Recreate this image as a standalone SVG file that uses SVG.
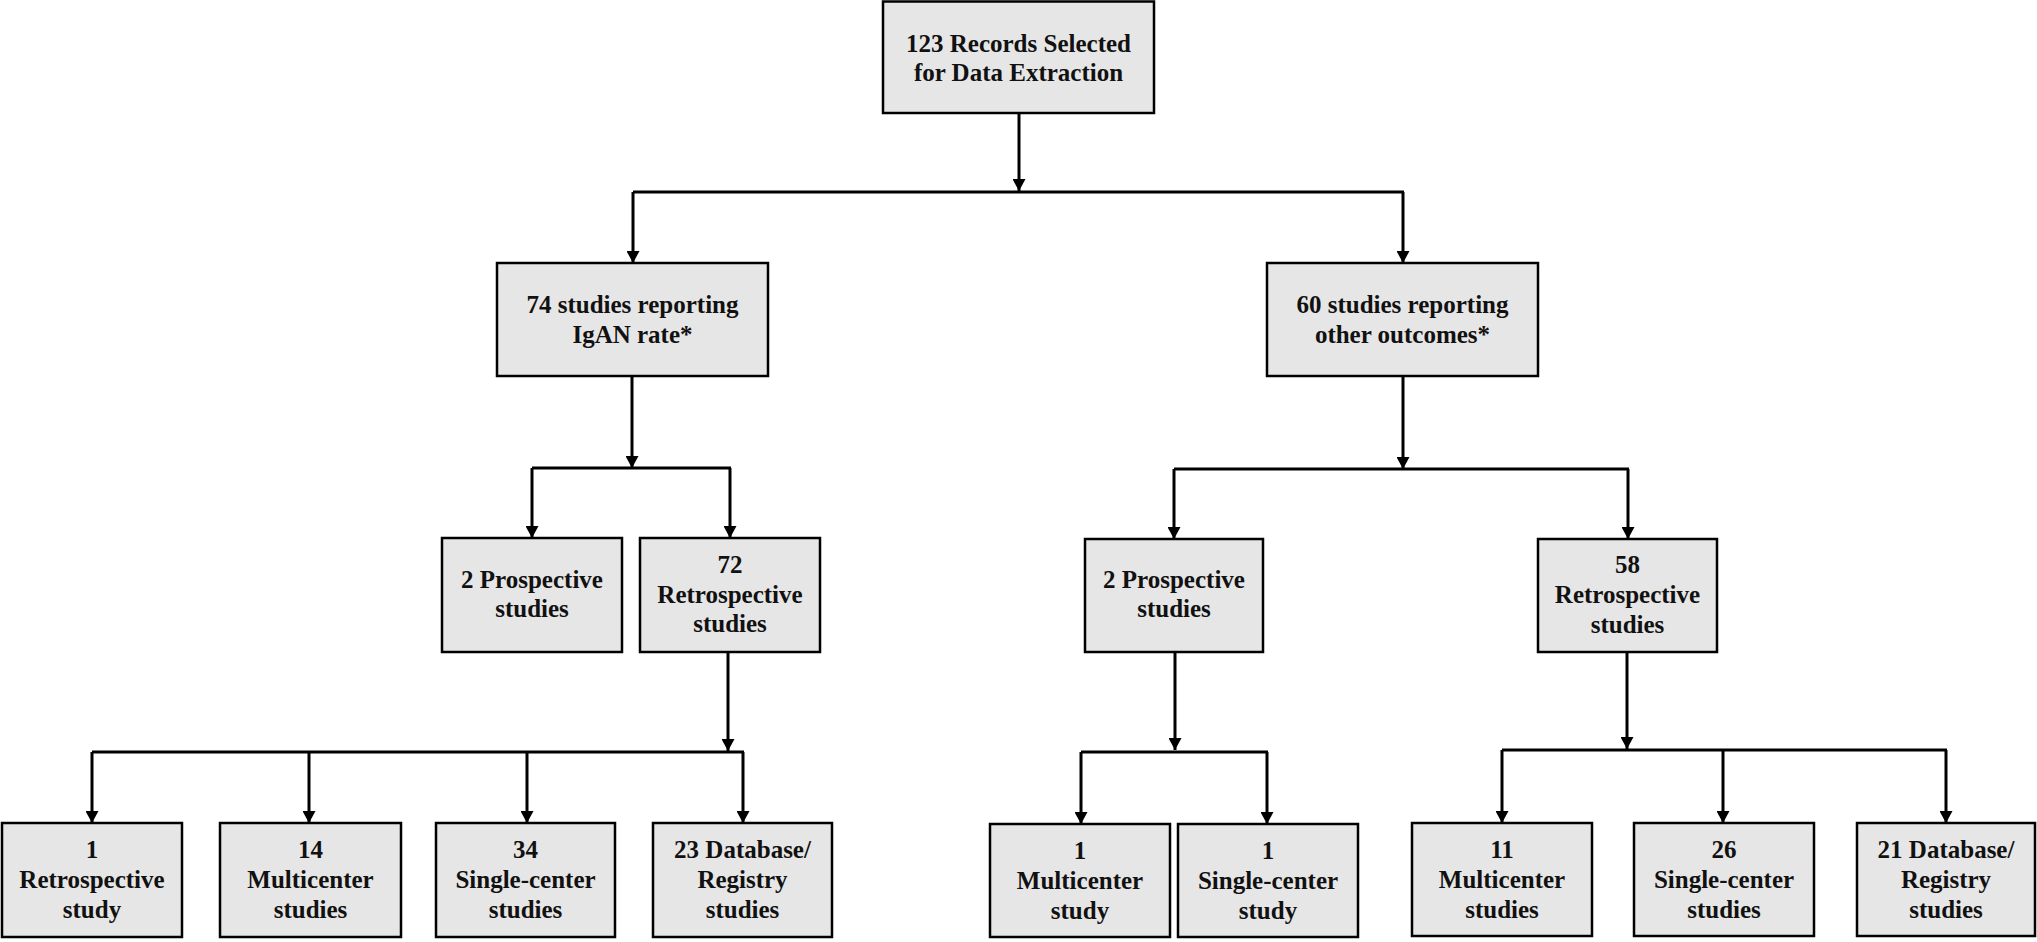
<svg xmlns="http://www.w3.org/2000/svg" width="2037" height="942" viewBox="0 0 2037 942">
<defs>
<style>
.box{fill:#e7e6e6;stroke:#000;stroke-width:2.5}
.t{font-family:"Liberation Serif","Times New Roman",serif;font-weight:bold;font-size:25px;text-anchor:middle;fill:#111}
.ln{stroke:#000;stroke-width:3;fill:none}
.ar{stroke:#000;stroke-width:3;fill:none;marker-end:url(#ah)}
</style>
<marker id="ah" markerUnits="userSpaceOnUse" markerWidth="13" markerHeight="13" refX="12" refY="6.5" orient="auto" viewBox="0 0 13 13">
<path d="M0,0 L12,6.5 L0,13 z" fill="#000"/>
</marker>
</defs>
<rect width="2037" height="942" fill="#fff"/>
<g id="connectors">
<line class="ar" x1="1019" y1="113" x2="1019" y2="191"/>
<line class="ln" x1="633" y1="192" x2="1404" y2="192"/>
<line class="ar" x1="633" y1="192" x2="633" y2="263"/>
<line class="ar" x1="1403" y1="192" x2="1403" y2="263"/>
<line class="ar" x1="632" y1="376" x2="632" y2="468"/>
<line class="ln" x1="532" y1="468" x2="731" y2="468"/>
<line class="ar" x1="532" y1="468" x2="532" y2="538"/>
<line class="ar" x1="730" y1="468" x2="730" y2="538"/>
<line class="ar" x1="1403" y1="376" x2="1403" y2="469"/>
<line class="ln" x1="1174" y1="469" x2="1629" y2="469"/>
<line class="ar" x1="1174" y1="469" x2="1174" y2="539"/>
<line class="ar" x1="1628" y1="469" x2="1628" y2="539"/>
<line class="ar" x1="728" y1="652" x2="728" y2="751"/>
<line class="ln" x1="92" y1="752" x2="744" y2="752"/>
<line class="ar" x1="92" y1="752" x2="92" y2="823"/>
<line class="ar" x1="309" y1="752" x2="309" y2="823"/>
<line class="ar" x1="527" y1="752" x2="527" y2="823"/>
<line class="ar" x1="743" y1="752" x2="743" y2="823"/>
<line class="ar" x1="1175" y1="652" x2="1175" y2="750"/>
<line class="ln" x1="1081" y1="752" x2="1268" y2="752"/>
<line class="ar" x1="1081" y1="752" x2="1081" y2="824"/>
<line class="ar" x1="1267" y1="752" x2="1267" y2="824"/>
<line class="ar" x1="1627" y1="652" x2="1627" y2="749"/>
<line class="ln" x1="1502" y1="750" x2="1947" y2="750"/>
<line class="ar" x1="1502" y1="750" x2="1502" y2="823"/>
<line class="ar" x1="1723" y1="750" x2="1723" y2="823"/>
<line class="ar" x1="1946" y1="750" x2="1946" y2="823"/>
</g>
<g id="n-top"><rect class="box" x="883" y="1.5" width="271" height="111.5"/><text class="t" x="1018.5" y="52">123 Records Selected</text><text class="t" x="1018.5" y="81">for Data Extraction</text></g>
<g id="n-igan"><rect class="box" x="497" y="263" width="271" height="113"/><text class="t" x="632.5" y="313">74 studies reporting</text><text class="t" x="632.5" y="343">IgAN rate*</text></g>
<g id="n-other"><rect class="box" x="1267" y="263" width="271" height="113"/><text class="t" x="1402.5" y="313">60 studies reporting</text><text class="t" x="1402.5" y="343">other outcomes*</text></g>
<g id="n-prosp-l"><rect class="box" x="442" y="538" width="180" height="114"/><text class="t" x="532" y="588">2 Prospective</text><text class="t" x="532" y="617">studies</text></g>
<g id="n-retro-l"><rect class="box" x="640" y="538" width="180" height="114"/><text class="t" x="730" y="573">72</text><text class="t" x="730" y="603">Retrospective</text><text class="t" x="730" y="632">studies</text></g>
<g id="n-prosp-r"><rect class="box" x="1085" y="539" width="178" height="113"/><text class="t" x="1174" y="588">2 Prospective</text><text class="t" x="1174" y="617">studies</text></g>
<g id="n-retro-r"><rect class="box" x="1538" y="539" width="179" height="113"/><text class="t" x="1627.5" y="573">58</text><text class="t" x="1627.5" y="603">Retrospective</text><text class="t" x="1627.5" y="633">studies</text></g>
<g id="n-b1"><rect class="box" x="2" y="823" width="180" height="114"/><text class="t" x="92" y="858">1</text><text class="t" x="92" y="888">Retrospective</text><text class="t" x="92" y="918">study</text></g>
<g id="n-b2"><rect class="box" x="220" y="823" width="181" height="114"/><text class="t" x="310.5" y="858">14</text><text class="t" x="310.5" y="888">Multicenter</text><text class="t" x="310.5" y="918">studies</text></g>
<g id="n-b3"><rect class="box" x="436" y="823" width="179" height="114"/><text class="t" x="525.5" y="858">34</text><text class="t" x="525.5" y="888">Single-center</text><text class="t" x="525.5" y="918">studies</text></g>
<g id="n-b4"><rect class="box" x="653" y="823" width="179" height="114"/><text class="t" x="742.5" y="858">23 Database/</text><text class="t" x="742.5" y="888">Registry</text><text class="t" x="742.5" y="918">studies</text></g>
<g id="n-b5"><rect class="box" x="990" y="824" width="180" height="113"/><text class="t" x="1080" y="859">1</text><text class="t" x="1080" y="889">Multicenter</text><text class="t" x="1080" y="919">study</text></g>
<g id="n-b6"><rect class="box" x="1178" y="824" width="180" height="113"/><text class="t" x="1268" y="859">1</text><text class="t" x="1268" y="889">Single-center</text><text class="t" x="1268" y="919">study</text></g>
<g id="n-b7"><rect class="box" x="1412" y="823" width="180" height="113"/><text class="t" x="1502" y="858">11</text><text class="t" x="1502" y="888">Multicenter</text><text class="t" x="1502" y="918">studies</text></g>
<g id="n-b8"><rect class="box" x="1634" y="823" width="180" height="113"/><text class="t" x="1724" y="858">26</text><text class="t" x="1724" y="888">Single-center</text><text class="t" x="1724" y="918">studies</text></g>
<g id="n-b9"><rect class="box" x="1857" y="823" width="178" height="113"/><text class="t" x="1946" y="858">21 Database/</text><text class="t" x="1946" y="888">Registry</text><text class="t" x="1946" y="918">studies</text></g>
</svg>
